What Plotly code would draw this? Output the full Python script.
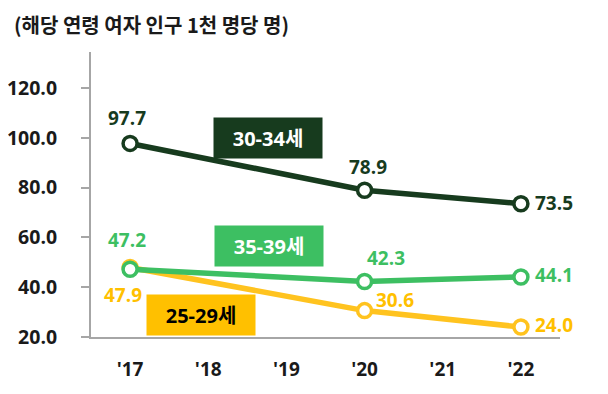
import plotly.graph_objects as go

years = ["'17", "'18", "'19", "'20", "'21", "'22"]
point_years = ["'17", "'20", "'22"]
age_30_34 = [97.7, 78.9, 73.5]
age_35_39 = [47.2, 42.3, 44.1]
age_25_29 = [47.9, 30.6, 24.0]
y_ticks = [20, 40, 60, 80, 100, 120]
title_text = "(해당 연령 여자 인구 1천 명당 명)"

DARK = "#173B1E"
GREEN = "#3DBF62"
YELLOW = "#FFC000"
YLINE = "#FFC31F"
FONT = "Open Sans, Noto Sans CJK KR, sans-serif"

W, H = 600, 386
ML, MR, MT, MB = 83, 48, 44, 57
PW, PH = W - ML - MR, H - MT - MB

xi = [years.index(y) for y in point_years]

fig = go.Figure()
series = [
    ("25-29세", age_25_29, YLINE),
    ("35-39세", age_35_39, GREEN),
    ("30-34세", age_30_34, DARK),
]
for name, vals, col in series:
    fig.add_trace(go.Scatter(
        x=xi, y=vals, mode="lines+markers", name=name,
        line=dict(color=col, width=5.5),
        marker=dict(symbol="circle", size=14, color="white",
                    line=dict(color=col, width=3.5)),
        cliponaxis=False, showlegend=False, hoverinfo="skip"))

LS = 19

def lab(x, y, text, color, xanchor="center", xshift=0, yshift=0):
    fig.add_annotation(x=x, y=y, xref="x", yref="y", text=f"<b>{text}</b>",
                       showarrow=False, xanchor=xanchor, yanchor="middle",
                       xshift=xshift, yshift=yshift,
                       font=dict(family=FONT, size=LS, color=color))

# 30-34
lab(xi[0], age_30_34[0], f"{age_30_34[0]:.1f}", DARK, yshift=25, xshift=-3)
lab(xi[1], age_30_34[1], f"{age_30_34[1]:.1f}", DARK, yshift=23, xshift=3)
lab(xi[2], age_30_34[2], f"{age_30_34[2]:.1f}", DARK, xanchor="left", xshift=12, yshift=1)
# 35-39
lab(xi[0], age_35_39[0], f"{age_35_39[0]:.1f}", GREEN, yshift=29, xshift=-3)
lab(xi[1], age_35_39[1], f"{age_35_39[1]:.1f}", GREEN, xanchor="left", xshift=0, yshift=23)
lab(xi[2], age_35_39[2], f"{age_35_39[2]:.1f}", GREEN, xanchor="left", xshift=12, yshift=2)
# 25-29
lab(xi[0], age_25_29[0], f"{age_25_29[0]:.1f}", YELLOW, yshift=-28, xshift=-7)
lab(xi[1], age_25_29[1], f"{age_25_29[1]:.1f}", YELLOW, xanchor="left", xshift=9, yshift=11)
lab(xi[2], age_25_29[2], f"{age_25_29[2]:.1f}", YELLOW, xanchor="left", xshift=12, yshift=2)

def box(x, y, text, bg, fg):
    fig.add_annotation(x=x, y=y, xref="x", yref="y", text=f"<b>{text}</b>",
                       showarrow=False, xanchor="center", yanchor="middle",
                       bgcolor=bg, width=106, height=38,
                       font=dict(family=FONT, size=20, color=fg))

box(1.76, 100.0, "30-34세", DARK, "white")
box(1.78, 56.6, "35-39세", GREEN, "white")
box(0.91, 28.8, "25-29세", YELLOW, "black")

# unit caption at top-left
fig.add_annotation(x=(4 - ML) / PW, y=1 + MT / PH, xref="paper", yref="paper",
                   text=f"<b>{title_text}</b>", showarrow=False,
                   xanchor="left", yanchor="top",
                   font=dict(family="Noto Sans CJK KR, sans-serif", size=20, color="#1A1A1A"))

fig.update_layout(
    width=W, height=H,
    margin=dict(l=ML, r=MR, t=MT, b=MB),
    paper_bgcolor="white", plot_bgcolor="white",
    xaxis=dict(range=[-0.5, 5.5], tickvals=list(range(len(years))), ticktext=years,
               showgrid=False, zeroline=False, showline=True, linecolor="#A6A6A6",
               linewidth=2, ticks="", ticklabelstandoff=14, automargin=False,
               tickfont=dict(family=FONT, size=19, color="#1A1A1A", weight="bold")),
    yaxis=dict(range=[20, 134.4], tickvals=y_ticks, tickformat=".1f",
               showgrid=False, zeroline=False, showline=True, linecolor="#A6A6A6",
               linewidth=2, ticks="outside", ticklen=8, tickcolor="#A6A6A6", tickwidth=2,
               ticklabelstandoff=20, automargin=False,
               tickfont=dict(family=FONT, size=19.5, color="#1A1A1A", weight="bold")),
)

fig.write_html("out.html")
